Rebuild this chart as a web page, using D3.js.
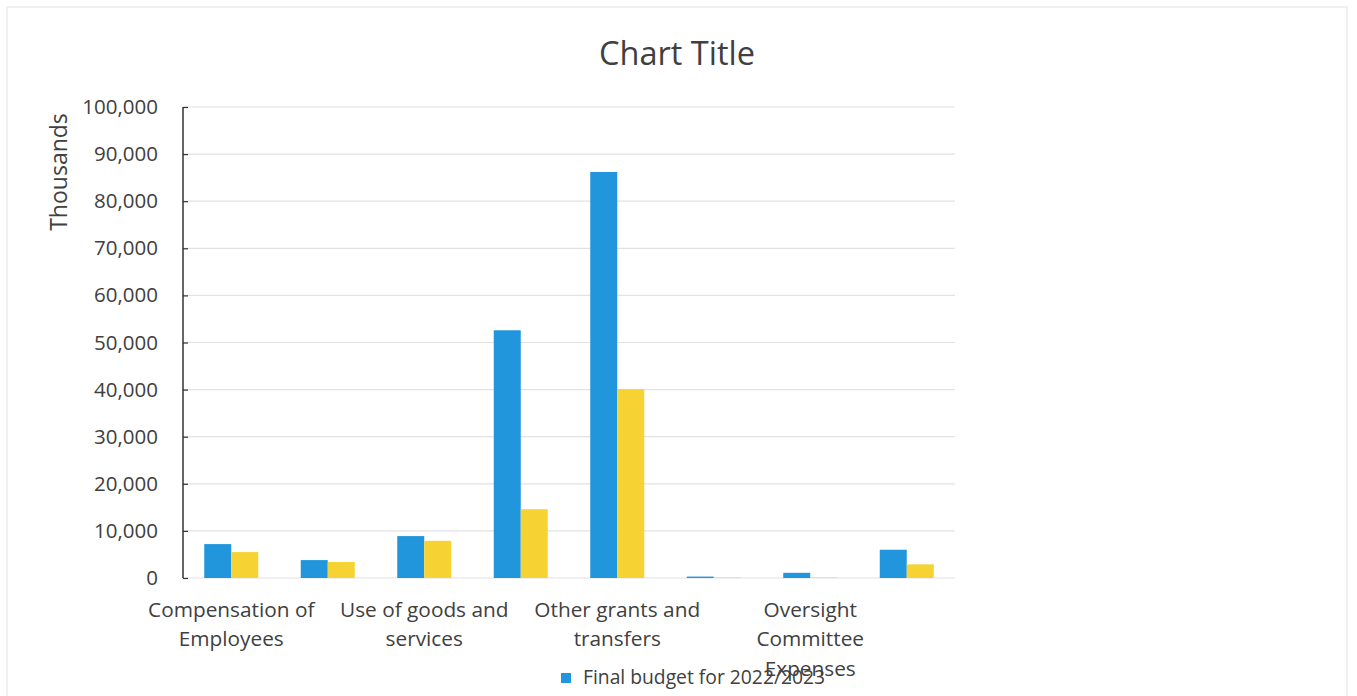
<!DOCTYPE html>
<html>
<head>
<meta charset="utf-8">
<script src="https://cdn.jsdelivr.net/npm/d3@7"></script>
<style>
  html, body { margin: 0; padding: 0; background: #ffffff; }
  svg { display: block; }
  text { font-family: "Open Sans", "Liberation Sans", sans-serif; fill: #404040; }
</style>
</head>
<body>
<svg id="chart" width="1357" height="696"></svg>
<script>
// ---- data ----
const categories = [
  "Compensation of Employees",
  "",
  "Use of goods and services",
  "",
  "Other grants and transfers",
  "",
  "Oversight Committee Expenses",
  ""
];
const seriesNames = ["Final budget for 2022/2023", "Actual expenditure"];
const finalBudget = [7200, 3800, 8900, 52600, 86200, 300, 1100, 6000];
const actual      = [5500, 3400, 7900, 14600, 40100, 100, 100, 2900];
const yTicks = [0, 10000, 20000, 30000, 40000, 50000, 60000, 70000, 80000, 90000, 100000];
const colors = ["#2196dc", "#f7d233"];

// ---- layout ----
const svg = d3.select("#chart");
const plotL = 183, plotR = 955, plotT = 107, plotB = 578;

// faint page border
svg.append("rect").attr("x", 7).attr("y", 7).attr("width", 1340).attr("height", 700)
  .attr("fill", "none").attr("stroke", "#ececec").attr("stroke-width", 1.5);

const idx = categories.map((d, i) => i);
const x0 = d3.scaleBand().domain(idx).range([plotL, plotR]).padding(0);
const x1 = d3.scaleBand().domain([0, 1]).range([0, x0.bandwidth()]).paddingInner(0).paddingOuter(0.787);
const y = d3.scaleLinear().domain([0, 100000]).range([plotB, plotT]);

// gridlines
svg.append("g").selectAll("line").data(yTicks).join("line")
  .attr("x1", plotL).attr("x2", plotR)
  .attr("y1", d => y(d)).attr("y2", d => y(d))
  .attr("stroke", "#e2e2e6").attr("stroke-width", 1.2);

// y axis
const yAxis = d3.axisLeft(y).tickValues(yTicks).tickFormat(d3.format(",")).tickSize(-5).tickPadding(25);
const gy = svg.append("g").attr("transform", `translate(${plotL},0)`).call(yAxis);
gy.select(".domain").attr("stroke", "#333").attr("stroke-width", 1.5).attr("d", `M0,${plotT}V${plotB}`);
gy.selectAll(".tick line").attr("stroke", "#333").attr("stroke-width", 1.2);
gy.selectAll(".tick text").attr("font-size", 20.5).attr("fill", "#333")
  .style("font-family", '"Open Sans", sans-serif');

// bars
const series = [finalBudget, actual];
const groups = svg.append("g").selectAll("g").data(idx).join("g")
  .attr("transform", i => `translate(${x0(i)},0)`);
groups.selectAll("rect").data(i => series.map((s, k) => ({k, v: s[i]}))).join("rect")
  .attr("x", d => x1(d.k)).attr("width", x1.bandwidth())
  .attr("y", d => y(d.v)).attr("height", d => y(0) - y(d.v))
  .attr("fill", d => colors[d.k]);

// category labels (wrapped)
const lineH = 29.5;
const wrapLines = {
  0: ["Compensation of", "Employees"],
  2: ["Use of goods and", "services"],
  4: ["Other grants and", "transfers"],
  6: ["Oversight", "Committee", "Expenses"]
};
idx.forEach(i => {
  if (!categories[i]) return;
  const lines = wrapLines[i] || [categories[i]];
  const t = svg.append("text").attr("text-anchor", "middle")
    .attr("font-size", 20.8).attr("fill", "#333");
  lines.forEach((l, j) => {
    t.append("tspan").attr("x", x0(i) + x0.bandwidth() / 2).attr("y", 616.5 + j * lineH).text(l);
  });
});

// y axis title
svg.append("text").attr("transform", "translate(67,172) rotate(-90)")
  .attr("text-anchor", "middle").attr("font-size", 23).attr("fill", "#333").text("Thousands");

// chart title
svg.append("text").attr("x", 677).attr("y", 65).attr("text-anchor", "middle")
  .attr("font-size", 32.5).attr("fill", "#222").text("Chart Title");

// legend (only first entry visible)
const lg = svg.append("g").attr("transform", "translate(561,673)");
lg.append("rect").attr("width", 10).attr("height", 10).attr("fill", colors[0]);
lg.append("text").attr("x", 22).attr("y", 11).attr("font-size", 19.3).attr("fill", "#333").text(seriesNames[0]);
</script>
</body>
</html>
